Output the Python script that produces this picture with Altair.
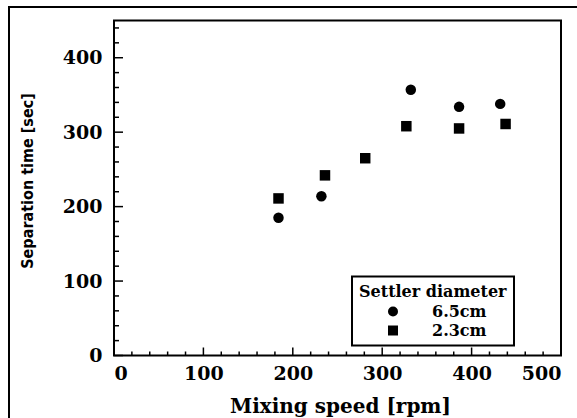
import altair as alt
import pandas as pd

# Data
speed_65 = [184, 232, 332, 386, 432]
time_65 = [185, 214, 357, 334, 338]
speed_23 = [184, 236, 281, 327, 386, 438]
time_23 = [211, 242, 265, 308, 305, 311]
series_names = ["6.5cm", "2.3cm"]

x_major = [0, 100, 200, 300, 400, 500]
x_minor = [v for v in range(20, 500, 20) if v % 100 != 0]
y_major = [0, 100, 200, 300, 400]
y_minor = [v for v in range(20, 450, 20) if v % 100 != 0]

W, H = 447, 335
SERIF = "DejaVu Serif"
NARROW = "DejaVu Sans Condensed"

pts = pd.DataFrame(
    {"speed": speed_65, "time": time_65, "series": series_names[0]}
)
pts = pd.concat(
    [pts, pd.DataFrame({"speed": speed_23, "time": time_23, "series": series_names[1]})],
    ignore_index=True,
)

xs = alt.Scale(domain=[0, 500], nice=False, zero=True)
ys = alt.Scale(domain=[0, 450], nice=False, zero=True)

xaxis = alt.Axis(
    values=x_major,
    title="Mixing speed [rpm]",
    titleX=226,
    titleY=57,
    titleBaseline="alphabetic",
    titleAlign="center",
    titleFontSize=20,
    labelPadding=9,
)
yaxis = alt.Axis(
    values=y_major,
    title="Separation time [sec]",
    titleX=-87,
    titleY=160,
    titleAngle=270,
    titleBaseline="middle",
    titleAlign="center",
    titleFont=NARROW,
    titleFontSize=16,
    labelPadding=12,
)

points = alt.Chart(pts).mark_point(filled=True, size=110, opacity=1).encode(
    x=alt.X("speed:Q", scale=xs, axis=xaxis, title="Mixing speed [rpm]"),
    y=alt.Y("time:Q", scale=ys, axis=yaxis, title="Separation time [sec]"),
    shape=alt.Shape(
        "series:N",
        scale=alt.Scale(domain=series_names, range=["circle", "square"]),
        legend=alt.Legend(
            title="Settler diameter",
            orient="none",
            legendX=238,
            legendY=256,
            symbolOffset=26,
            labelOffset=31,
        ),
    ),
    color=alt.value("black"),
)

xticks_major = alt.Chart(pd.DataFrame({"speed": x_major})).mark_rule(color="black", strokeWidth=1.5).encode(
    x=alt.X("speed:Q", scale=xs, axis=xaxis, title="Mixing speed [rpm]"),
    y=alt.value(H), y2=alt.value(H - 8),
)
xticks_minor = alt.Chart(pd.DataFrame({"speed": x_minor})).mark_rule(color="black", strokeWidth=1.5).encode(
    x=alt.X("speed:Q", scale=xs, axis=xaxis, title="Mixing speed [rpm]"),
    y=alt.value(H), y2=alt.value(H - 4),
)
yticks_major = alt.Chart(pd.DataFrame({"time": y_major})).mark_rule(color="black", strokeWidth=1.5).encode(
    y=alt.Y("time:Q", scale=ys, axis=yaxis, title="Separation time [sec]"),
    x=alt.value(0), x2=alt.value(9),
)
yticks_minor = alt.Chart(pd.DataFrame({"time": y_minor})).mark_rule(color="black", strokeWidth=1.5).encode(
    y=alt.Y("time:Q", scale=ys, axis=yaxis, title="Separation time [sec]"),
    x=alt.value(0), x2=alt.value(5),
)

frame = alt.Chart(pd.DataFrame({"a": [0]})).mark_rect(
    fillOpacity=0, stroke="black", strokeWidth=2
).encode(
    x=alt.value(-105), x2=alt.value(640), y=alt.value(-13.5), y2=alt.value(480)
)

chart = (
    alt.layer(frame, xticks_major, xticks_minor, yticks_major, yticks_minor, points)
    .properties(
        width=W,
        height=H,
        padding={"left": 114, "top": 20.5, "right": 16, "bottom": 62.5},
        autosize=alt.AutoSizeParams(type="none"),
        background="white",
    )
    .configure_view(stroke="black", strokeWidth=2)
    .configure_axis(
        domain=False,
        ticks=False,
        grid=False,
        labelFont=SERIF,
        labelFontSize=19,
        labelFontWeight="bold",
        labelColor="black",
        titleFont=SERIF,
        titleFontSize=17,
        titleFontWeight="bold",
        titleColor="black",
    )
    .configure_legend(
        titleFont=SERIF,
        titleFontSize=16,
        titleFontWeight="bold",
        titleColor="black",
        titlePadding=4,
        labelFont=SERIF,
        labelFontSize=16,
        labelFontWeight="bold",
        labelColor="black",
        strokeColor="black",
        strokeWidth=2,
        padding=7,
        rowPadding=3,
        symbolSize=100,
        symbolFillColor="black",
        symbolStrokeColor="black",
        fillColor="white",
    )
)

chart.save("out.html", embed_options={"renderer": "svg", "actions": False})
